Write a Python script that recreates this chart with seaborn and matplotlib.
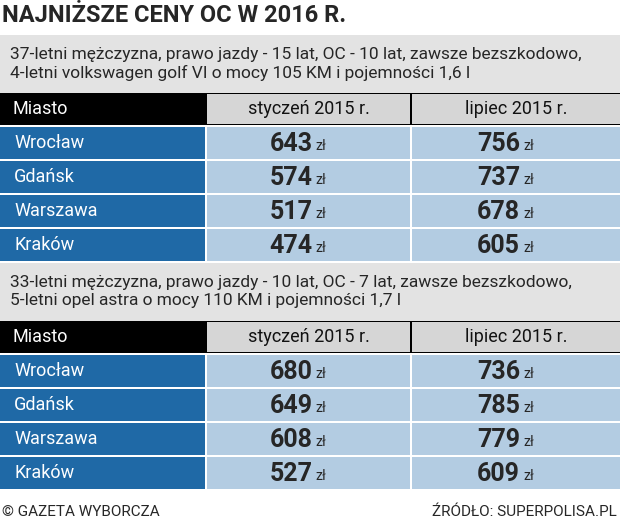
import matplotlib
matplotlib.use("Agg")
import matplotlib.pyplot as plt
from matplotlib.patches import Rectangle
import seaborn as sns

sns.set_theme(style="white")
plt.rcParams["font.family"] = ["Liberation Sans Narrow", "Roboto", "DejaVu Sans"]

title = "NAJNIŻSZE CENY OC W 2016 R."
desc1 = "37-letni mężczyzna, prawo jazdy - 15 lat, OC - 10 lat, zawsze bezszkodowo,\n4-letni volkswagen golf VI o mocy 105 KM i pojemności 1,6 l"
desc2 = "33-letni mężczyzna, prawo jazdy - 10 lat, OC - 7 lat, zawsze bezszkodowo,\n5-letni opel astra o mocy 110 KM i pojemności 1,7 l"
columns = ["Miasto", "styczeń 2015 r.", "lipiec 2015 r."]
cities = ["Wrocław", "Gdańsk", "Warszawa", "Kraków"]
jan_1 = [643, 574, 517, 474]
jul_1 = [756, 737, 678, 605]
jan_2 = [680, 649, 608, 527]
jul_2 = [736, 785, 779, 609]

fig = plt.figure(figsize=(6.2, 5.28), dpi=100)
ax = fig.add_axes([0, 0, 1, 1])
ax.set_xlim(0, 620); ax.set_ylim(528, 0); ax.axis("off")

BLUE = "#1f69a6"; LBLUE = "#b3cce2"; GRAY = "#e3e3e3"; HGRAY = "#d6d6d6"
colx = [(0, 205), (207, 410), (412, 620)]

ax.text(2, 15, title, fontsize=17, fontweight="bold", va="center", ha="left")

def block(y0, desc, jan, jul):
    ax.add_patch(Rectangle((0, y0), 620, 58, color=GRAY, lw=0))
    ax.text(10, y0 + 29, desc, fontsize=12.5, va="center", ha="left", linespacing=1.25)
    hy = y0 + 58
    ax.add_patch(Rectangle((0, hy), 620, 32, color="black", lw=0))
    for i, (a, b) in enumerate(colx):
        if i > 0:
            ax.add_patch(Rectangle((a, hy + 1), b - a, 30, color=HGRAY, lw=0))
            ax.text((a + b) / 2, hy + 16, columns[i], fontsize=13, ha="center", va="center", color="#111111")
        else:
            ax.text(12, hy + 16, columns[0], fontsize=13, ha="left", va="center", color="white")
    ry = hy + 34
    for k, c in enumerate(cities):
        y = ry + k * 34
        ax.add_patch(Rectangle((colx[0][0], y), 205, 32, color=BLUE, lw=0))
        ax.text(14, y + 16, c, fontsize=13, color="white", ha="left", va="center")
        for (a, b), v in zip(colx[1:], [jan[k], jul[k]]):
            ax.add_patch(Rectangle((a, y), b - a, 32, color=LBLUE, lw=0))
            cx = (a + b) / 2
            ax.text(cx + 4, y + 17, str(v), fontsize=18, fontweight="bold", ha="right", va="center")
            ax.text(cx + 7, y + 19, "zł", fontsize=10, ha="left", va="center")
    return ry + 4 * 34

end = block(35, desc1, jan_1, jul_1)
block(end, desc2, jan_2, jul_2)

ax.text(2, 512, "© GAZETA WYBORCZA", fontsize=11, ha="left", va="center")
ax.text(617, 512, "ŹRÓDŁO: SUPERPOLISA.PL", fontsize=11, ha="right", va="center")
fig.savefig("out.png", dpi=100)
